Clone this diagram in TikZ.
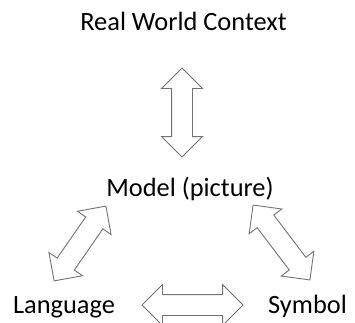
\documentclass[tikz,border=0pt]{standalone}
\usepackage{fontspec}
\setmainfont{Carlito}
\usepackage{xcolor}
\usepackage{tikz}
\usetikzlibrary{calc}
\usetikzlibrary{shapes.arrows}
\definecolor{arrowgray}{rgb}{0.45,0.45,0.45}

\begin{document}
\begin{tikzpicture}[x=1pt,y=1pt,
    labeltext/.style={font=\fontsize{26.4}{30}\selectfont,anchor=base,inner sep=0pt},
    blockarrow/.style={double arrow,draw=arrowgray,line width=0.9pt,fill=white,
      inner xsep=0pt,inner ysep=10pt,double arrow head extend=10pt,
      double arrow tip angle=90,minimum width=40pt}]
  	\useasboundingbox (0,0) rectangle (355,322);
  	\node[labeltext] (context) at (183.5,291) {Real World Context};
  	\node[labeltext] (model) at (190,126) {Model (picture)};
  	\node[labeltext] (language) at (64,9) {Language};
  	\node[labeltext] (symbol) at (307.5,9) {Symbol};
  	\node[blockarrow,minimum height=89pt,rotate=90] (contextmodel) at (182,209.5) {};
  	\node[blockarrow,minimum height=91pt,rotate=55.3] (modellanguage) at (80,78.5) {};
  	\node[blockarrow,minimum height=94pt,rotate=-52.8] (modelsymbol) at (281.5,79.5) {};
  	\node[blockarrow,minimum height=101pt] (languagesymbol) at (192.5,17) {};
  \end{tikzpicture}
\end{document}
